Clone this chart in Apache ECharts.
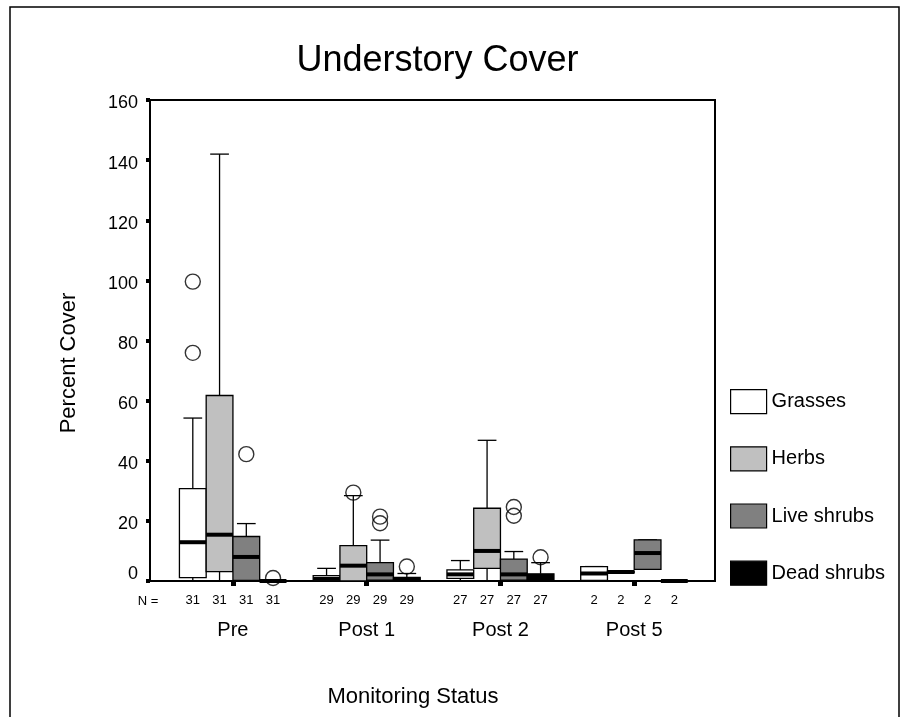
<!DOCTYPE html>
<html>
<head>
<meta charset="utf-8">
<script src="https://cdn.jsdelivr.net/npm/echarts@6/dist/echarts.min.js"></script>
<style>
  html, body { margin: 0; padding: 0; background: #fff; }
  #chart { width: 903px; height: 717px; }
</style>
</head>
<body>
<div id="chart"></div>
<script>
// ---- Data ----
const categories = ['Pre', 'Post 1', 'Post 2', 'Post 5'];
const nCounts = [31, 29, 27, 2];
const seriesNames = ['Grasses', 'Herbs', 'Live shrubs', 'Dead shrubs'];

// [min, Q1, median, Q3, max] per category
const grasses    = [[0, 1.1, 12.9, 30.7, 54.2], [0, 0, 0.7, 1.8, 4.2], [0, 0.9, 2.2, 3.7, 6.8], [0.2, 0.2, 2.5, 4.8, 4.8]];
const herbs      = [[0, 3.1, 15.4, 61.7, 142], [0, 0, 5.1, 11.8, 28.4], [0, 4.2, 10, 24.2, 46.8], [2.7, 2.7, 3, 3.3, 3.3]];
const liveShrubs = [[0, 0.2, 8, 14.8, 19.1], [0, 0.3, 2.2, 6.1, 13.6], [0, 0.3, 2.2, 7.3, 9.8], [3.9, 3.9, 9.3, 13.7, 13.7]];
const deadShrubs = [[0, 0, 0, 0, 0], [0, 0, 0.4, 1.2, 2.5], [0, 0, 0.8, 2.4, 6.1], [0, 0, 0, 0, 0]];

const grassesOutliers    = [[99.6, 75.9], [], [], []];
const herbsOutliers      = [[], [29.4], [], []];
const liveShrubsOutliers = [[42.2], [21.4, 19.2], [24.6, 21.7], []];
const deadShrubsOutliers = [[1], [4.8], [7.9], []];

const yMin = 0, yMax = 160, yInterval = 20;

// ---- Styling / layout ----
const FONT = 'Liberation Sans, Arial, sans-serif';
const fills = ['#ffffff', '#c0c0c0', '#808080', '#000000'];
const offsets = [-0.3, -0.1, 0.1, 0.3];
const boxW = 0.2;
const capW = 0.14;

const allBoxes = [grasses, herbs, liveShrubs, deadShrubs];
const allOutliers = [grassesOutliers, herbsOutliers, liveShrubsOutliers, deadShrubsOutliers];

function makeRender(fill) {
  return function (params, api) {
    const x = api.value(0), mn = api.value(1), q1 = api.value(2), md = api.value(3), q3 = api.value(4), mx = api.value(5);
    const hw = boxW / 2, cw = capW / 2;
    const tl = api.coord([x - hw, q3]);
    const br = api.coord([x + hw, q1]);
    const pMax = api.coord([x, mx]), pQ3 = api.coord([x, q3]);
    const pMin = api.coord([x, mn]), pQ1 = api.coord([x, q1]);
    const capL = api.coord([x - cw, mx])[0], capR = api.coord([x + cw, mx])[0];
    const mL = api.coord([x - hw, md]), mR = api.coord([x + hw, md]);
    const lineStyle = { stroke: '#000', lineWidth: 1.3 };
    return {
      type: 'group',
      children: [
        { type: 'line', shape: { x1: pQ3[0], y1: pQ3[1], x2: pMax[0], y2: pMax[1] }, style: lineStyle },
        { type: 'line', shape: { x1: capL, y1: pMax[1], x2: capR, y2: pMax[1] }, style: lineStyle },
        { type: 'line', shape: { x1: pQ1[0], y1: pQ1[1], x2: pMin[0], y2: pMin[1] }, style: lineStyle },
        { type: 'line', shape: { x1: capL, y1: pMin[1], x2: capR, y2: pMin[1] }, style: lineStyle },
        { type: 'rect', shape: { x: tl[0], y: tl[1], width: br[0] - tl[0], height: Math.max(br[1] - tl[1], 0.5) },
          style: { fill: fill, stroke: '#000', lineWidth: 1.3 } },
        { type: 'line', shape: { x1: mL[0], y1: mL[1], x2: mR[0], y2: mR[1] }, style: { stroke: '#000', lineWidth: 4 } }
      ]
    };
  };
}

const series = [];
allBoxes.forEach(function (boxes, s) {
  series.push({
    name: seriesNames[s],
    type: 'custom',
    xAxisIndex: 0,
    yAxisIndex: 0,
    renderItem: makeRender(fills[s]),
    itemStyle: { color: fills[s], borderColor: '#000' },
    encode: { x: 0, y: [1, 2, 3, 4, 5] },
    data: boxes.map(function (b, k) { return [k + 1 + offsets[s]].concat(b); }),
    silent: true,
    z: 2
  });
});

const outlierData = [];
allOutliers.forEach(function (outs, s) {
  outs.forEach(function (vals, k) {
    vals.forEach(function (v) { outlierData.push([k + 1 + offsets[s], v]); });
  });
});
series.push({
  name: 'outliers',
  type: 'scatter',
  symbol: 'circle',
  symbolSize: 15,
  itemStyle: { color: 'rgba(0,0,0,0)', borderColor: '#000', borderWidth: 1.4 },
  data: outlierData,
  silent: true,
  z: 5
});

const nPositions = [];
categories.forEach(function (c, k) {
  offsets.forEach(function (o) { nPositions.push(k + 1 + o); });
});

const option = {
  animation: false,
  backgroundColor: '#fff',
  textStyle: { fontFamily: FONT, color: '#000' },
  title: {
    text: 'Understory Cover',
    left: 432.5,
    top: 38,
    textAlign: 'center',
    textStyle: { fontFamily: FONT, fontSize: 36, fontWeight: 'normal', color: '#000' }
  },
  legend: {
    orient: 'vertical',
    left: 730,
    top: 389,
    padding: 0,
    itemWidth: 36,
    itemHeight: 24,
    itemGap: 32,
    icon: 'rect',
    selectedMode: false,
    textStyle: { fontFamily: FONT, fontSize: 20, color: '#000' },
    data: seriesNames.map(function (n, i) {
      return { name: n, icon: 'rect', itemStyle: { color: fills[i], borderColor: '#000', borderWidth: 1.2 } };
    })
  },
  grid: {
    left: 150, right: 188, top: 100, bottom: 136,
    show: true, borderColor: '#000', borderWidth: 2, backgroundColor: 'transparent'
  },
  xAxis: [
    {
      type: 'value',
      min: 0.38, max: 4.604,
      position: 'bottom',
      splitLine: { show: false },
      axisLine: { show: true, lineStyle: { color: '#000', width: 2 } },
      axisTick: { show: true, customValues: [1, 2, 3, 4], length: 5, inside: false, lineStyle: { color: '#000', width: 5 } },
      axisLabel: {
        customValues: [1, 2, 3, 4],
        margin: 39,
        fontSize: 20,
        color: '#000',
        fontFamily: FONT,
        formatter: function (v) { return categories[Math.round(v) - 1]; }
      }
    },
    {
      type: 'value',
      min: 0.38, max: 4.604,
      position: 'bottom',
      offset: 0,
      splitLine: { show: false },
      axisLine: { show: false },
      axisTick: { show: false },
      axisLabel: {
        customValues: nPositions,
        margin: 13,
        fontSize: 13,
        color: '#000',
        fontFamily: FONT,
        formatter: function (v) { return String(nCounts[Math.round(v) - 1]); }
      }
    }
  ],
  yAxis: {
    type: 'value',
    min: yMin, max: yMax, interval: yInterval,
    splitLine: { show: false },
    axisLine: { show: true, lineStyle: { color: '#000', width: 2 } },
    axisTick: { show: true, length: 4, lineStyle: { color: '#000', width: 4 } },
    axisLabel: {
      margin: 12, fontSize: 18, color: '#000', fontFamily: FONT,
      formatter: function (v) { return v === 0 ? '{z|0}' : '{n|' + v + '}'; },
      rich: {
        n: { fontSize: 18, fontFamily: FONT, color: '#000', padding: [7, 0, 0, 0] },
        z: { fontSize: 18, fontFamily: FONT, color: '#000', padding: [0, 0, 14, 0] }
      }
    }
  },
  graphic: [
    { type: 'rect', shape: { x: 10, y: 7, width: 889, height: 730 }, style: { fill: 'none', stroke: '#000', lineWidth: 1.5 }, z: 0, silent: true },
    { type: 'text', x: 69, y: 363, rotation: Math.PI / 2,
      style: { text: 'Percent Cover', font: '22px Liberation Sans, Arial, sans-serif', fill: '#000', align: 'center', verticalAlign: 'middle' } },
    { type: 'text', x: 413, y: 697,
      style: { text: 'Monitoring Status', font: '22px Liberation Sans, Arial, sans-serif', fill: '#000', align: 'center', verticalAlign: 'middle' } },
    { type: 'text', x: 148, y: 601,
      style: { text: 'N =', font: '13px Liberation Sans, Arial, sans-serif', fill: '#000', align: 'center', verticalAlign: 'middle' } }
  ],
  series: series
};

const chart = echarts.init(document.getElementById('chart'), null, { renderer: 'canvas', width: 903, height: 717 });
chart.setOption(option);
</script>
</body>
</html>
